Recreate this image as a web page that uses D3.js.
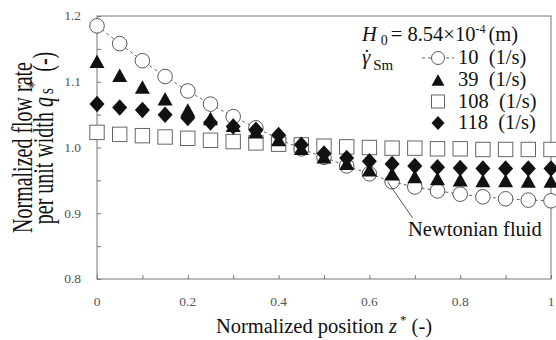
<!DOCTYPE html>
<html>
<head>
<meta charset="utf-8">
<script src="https://cdn.jsdelivr.net/npm/d3@7"></script>
<style>
  body { margin: 0; background: #fff; }
  text { font-family: "Liberation Serif", "Times New Roman", serif; fill: #111; }
</style>
</head>
<body>
<svg width="556" height="340"></svg>
<script>
// positions z* along the channel
var zPos = [0, 0.05, 0.1, 0.15, 0.2, 0.25, 0.3, 0.35, 0.4, 0.45, 0.5,
            0.55, 0.6, 0.65, 0.7, 0.75, 0.8, 0.85, 0.9, 0.95, 1];
// normalized flow rate for each shear rate (1/s)
var q10  = [1.185, 1.158, 1.132, 1.108, 1.086, 1.066, 1.047, 1.030, 1.013, 0.998, 0.985,
            0.972, 0.960, 0.948, 0.940, 0.934, 0.929, 0.925, 0.922, 0.920, 0.919];
var q39  = [1.131, 1.110, 1.092, 1.074, 1.057, 1.044, 1.034, 1.024, 1.012, 0.999, 0.986,
            0.976, 0.966, 0.960, 0.956, 0.953, 0.951, 0.950, 0.950, 0.949, 0.949];
var q108 = [1.023, 1.020, 1.018, 1.016, 1.014, 1.011, 1.009, 1.007, 1.005, 1.004, 1.002,
            1.001, 1.000, 0.999, 0.999, 0.998, 0.998, 0.997, 0.997, 0.997, 0.997];
var q118 = [1.066, 1.061, 1.057, 1.050, 1.045, 1.038, 1.032, 1.027, 1.019, 1.004, 0.991,
            0.984, 0.979, 0.975, 0.972, 0.970, 0.969, 0.968, 0.968, 0.968, 0.968];
var rateLabels = ["10", "39", "108", "118"];
var xTicks = [0, 0.2, 0.4, 0.6, 0.8, 1];
var xTickLabels = ["0", "0.2", "0.4", "0.6", "0.8", "1"];
var yTicks = [0.8, 0.9, 1.0, 1.1, 1.2];
var yTickLabels = ["0.8", "0.9", "1.0", "1.1", "1.2"];

var svg = d3.select("svg"),
    margin = {top: 16, right: 5, bottom: 61, left: 97},
    width = +svg.attr("width") - margin.left - margin.right,
    height = +svg.attr("height") - margin.top - margin.bottom;

var x = d3.scaleLinear().domain([0, 1]).range([0, width]),
    y = d3.scaleLinear().domain([0.8, 1.2]).range([height, 0]);

var g = svg.append("g")
    .attr("transform", "translate(" + margin.left + "," + margin.top + ")");

// frame
g.append("rect")
    .attr("width", width).attr("height", height)
    .attr("fill", "none").attr("stroke", "#777").attr("stroke-width", 1);

// inward ticks
g.append("g")
    .attr("transform", "translate(0," + height + ")")
    .call(d3.axisBottom(x).tickValues(d3.range(0, 1.001, 0.1)).tickSize(-4).tickFormat(""))
    .call(function(a) { a.select(".domain").remove(); a.selectAll("line").attr("stroke", "#777"); });
g.append("g")
    .call(d3.axisLeft(y).tickValues(d3.range(0.8, 1.2001, 0.05)).tickSize(-4).tickFormat(""))
    .call(function(a) { a.select(".domain").remove(); a.selectAll("line").attr("stroke", "#777"); });

// tick labels
g.selectAll(".xl").data(xTicks).enter().append("text")
    .attr("x", function(d) { return x(d); })
    .attr("y", height + 27)
    .attr("text-anchor", "middle")
    .style("font-size", "13.5px").style("fill", "#555")
    .text(function(d, i) { return xTickLabels[i]; });
g.selectAll(".yl").data(yTicks).enter().append("text")
    .attr("x", -16)
    .attr("y", function(d) { return y(d); })
    .attr("dy", "0.33em")
    .attr("text-anchor", "end")
    .style("font-size", "13.5px").style("fill", "#555")
    .text(function(d, i) { return yTickLabels[i]; });

// symbol helpers
function tri(w, h) { return "M0," + (-h / 2) + "L" + (w / 2) + "," + (h / 2) + "L" + (-w / 2) + "," + (h / 2) + "Z"; }
function dia(w, h) { return "M0," + (-h / 2) + "L" + (w / 2) + ",0L0," + (h / 2) + "L" + (-w / 2) + ",0Z"; }

// dashed line through the open circles
var line = d3.line().x(function(d, i) { return x(zPos[i]); }).y(function(d) { return y(d); });
g.append("path").datum(q10)
    .attr("d", line)
    .attr("fill", "none").attr("stroke", "#555").attr("stroke-width", 0.9)
    .attr("stroke-dasharray", "3,3");

g.selectAll(".c10").data(q10).enter().append("circle")
    .attr("cx", function(d, i) { return x(zPos[i]); })
    .attr("cy", function(d) { return y(d); })
    .attr("r", 7.3)
    .attr("fill", "#fff").attr("stroke", "#444").attr("stroke-width", 0.9);

g.selectAll(".s108").data(q108).enter().append("rect")
    .attr("x", function(d, i) { return x(zPos[i]) - 7.2; })
    .attr("y", function(d) { return y(d) - 7.2; })
    .attr("width", 14.4).attr("height", 14.4)
    .attr("fill", "#fff").attr("stroke", "#666").attr("stroke-width", 1);

g.selectAll(".t39").data(q39).enter().append("path")
    .attr("transform", function(d, i) { return "translate(" + x(zPos[i]) + "," + y(d) + ")"; })
    .attr("d", tri(15, 13.5))
    .attr("fill", "#111");

g.selectAll(".d118").data(q118).enter().append("path")
    .attr("transform", function(d, i) { return "translate(" + x(zPos[i]) + "," + y(d) + ")"; })
    .attr("d", dia(15, 16.5))
    .attr("fill", "#111");

// Newtonian fluid annotation
g.append("line")
    .attr("x1", x(0.64)).attr("y1", y(0.948))
    .attr("x2", x(0.695)).attr("y2", y(0.893))
    .attr("stroke", "#444").attr("stroke-width", 0.9);
g.append("text")
    .attr("x", x(0.685)).attr("y", y(0.866))
    .style("font-size", "20.5px")
    .text("Newtonian fluid");

// legend
var H = svg.append("text").attr("x", 362).attr("y", 40.5).style("font-size", "20.5px");
H.append("tspan").style("font-style", "italic").text("H");
H.append("tspan").attr("dx", 4).attr("dy", 4).style("font-size", "14px").text("0");
H.append("tspan").attr("dx", 3).attr("dy", -4).text("= 8.54\u00d710");
H.append("tspan").attr("dy", -8).style("font-size", "12px").text("-4");
H.append("tspan").attr("dx", 3).attr("dy", 8).text("(m)");

var gam = svg.append("text").attr("x", 362).attr("y", 64).style("font-size", "21px");
gam.append("tspan").style("font-style", "italic").text("\u03b3");
gam.append("tspan").attr("dx", 3).attr("dy", 6).style("font-size", "15px").text("Sm");
svg.append("text").attr("x", 363.5).attr("y", 63.5)
    .style("font-size", "20px").text("\u02d9");

var legX = 438, legY = [58, 80, 101.5, 123];
svg.append("line")
    .attr("x1", legX - 16).attr("x2", legX + 16)
    .attr("y1", legY[0]).attr("y2", legY[0])
    .attr("stroke", "#555").attr("stroke-width", 0.9).attr("stroke-dasharray", "3,3");
svg.append("circle").attr("cx", legX).attr("cy", legY[0]).attr("r", 6.5)
    .attr("fill", "#fff").attr("stroke", "#444").attr("stroke-width", 0.9);
svg.append("path").attr("transform", "translate(" + legX + "," + legY[1] + ")")
    .attr("d", tri(13, 11.5)).attr("fill", "#111");
svg.append("rect").attr("x", legX - 6.5).attr("y", legY[2] - 6.5)
    .attr("width", 13).attr("height", 13)
    .attr("fill", "#fff").attr("stroke", "#666");
svg.append("path").attr("transform", "translate(" + legX + "," + legY[3] + ")")
    .attr("d", dia(13, 14)).attr("fill", "#111");

svg.selectAll(".lt").data(rateLabels).enter().append("text")
    .attr("x", 458)
    .attr("y", function(d, i) { return legY[i] + 6; })
    .style("font-size", "20.5px").style("white-space", "pre")
    .text(function(d) { return d + "  (1/s)"; });

// axis titles
var xt = svg.append("text")
    .attr("x", margin.left + width / 2).attr("y", 333)
    .attr("text-anchor", "middle")
    .style("font-size", "20.5px");
xt.append("tspan").text("Normalized position ");
xt.append("tspan").style("font-style", "italic").text("z");
xt.append("tspan").attr("dx", 3).attr("dy", -9).style("font-size", "13px").text("*");
xt.append("tspan").attr("dy", 9).text(" (-)");

svg.append("text")
    .attr("transform", "translate(31.5,147.5) rotate(-90) scale(1,1.45)")
    .attr("text-anchor", "middle")
    .style("font-size", "20px")
    .text("Normalized flow rate");
var yt = svg.append("text")
    .attr("transform", "translate(52.5,138) rotate(-90) scale(1,1.45)")
    .attr("text-anchor", "middle")
    .style("font-size", "20px").style("white-space", "pre");
yt.append("tspan").text("per unit width ");
yt.append("tspan").style("font-style", "italic").text("q");
yt.append("tspan").attr("dx", 3).style("font-size", "15px").text("s");
yt.append("tspan").attr("dy", -8).style("font-size", "13px").text("*");
yt.append("tspan").attr("dy", 8).text("  (-)");
</script>
</body>
</html>
